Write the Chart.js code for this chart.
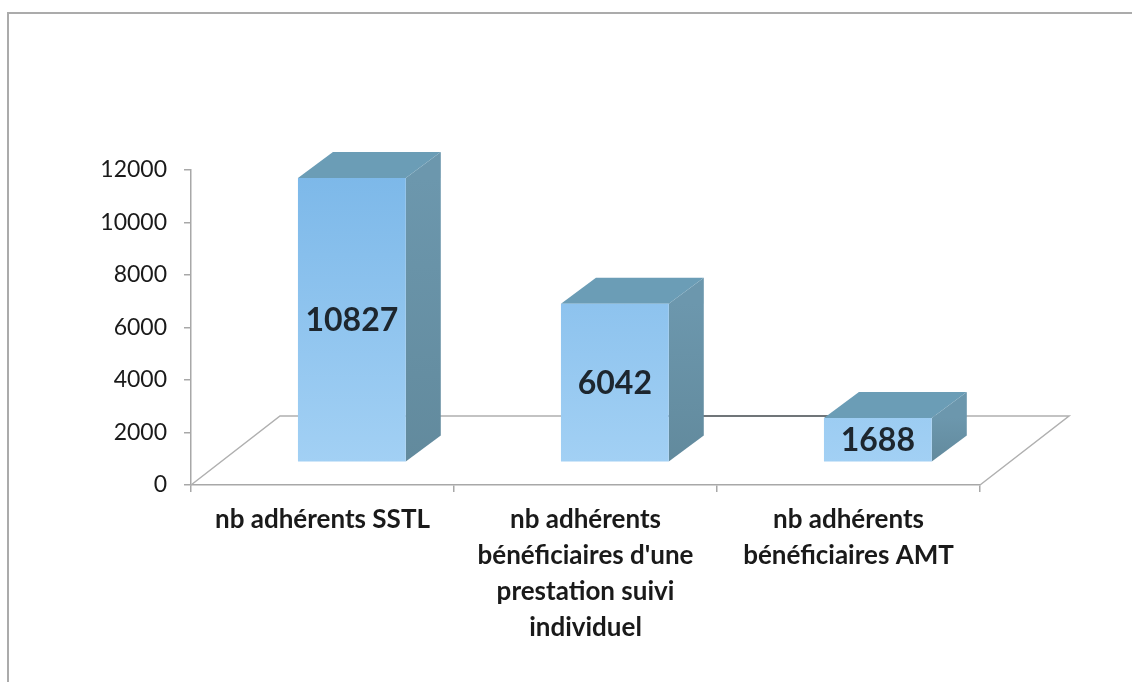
<!DOCTYPE html>
<html lang="fr">
<head>
<meta charset="utf-8">
<title>Adhérents</title>
<script src="https://cdn.jsdelivr.net/npm/chart.js@4.4.1/dist/chart.umd.min.js"></script>
<style>
  html, body { margin: 0; padding: 0; background: #ffffff; }
  #wrap { width: 1132px; height: 682px; position: relative; }
</style>
</head>
<body>
<div id="wrap"><canvas id="chart" width="1132" height="682"></canvas></div>
<script>
// Categories (multi-line labels), values and axis ticks
const categories = [
  ["nb adhérents SSTL"],
  ["nb adhérents", "bénéficiaires d'une", "prestation suivi", "individuel"],
  ["nb adhérents", "bénéficiaires AMT"]
];
const values = [10827, 6042, 1688];
const yTicks = [0, 2000, 4000, 6000, 8000, 10000, 12000];

// Pseudo-3D geometry: floor depth vector and where the columns sit in that depth
const FLOOR_DX = 89, FLOOR_DY = -69;
const FRONT = 0.33;
const COL_DX = 35, COL_DY = -26;

const FONT = "Lato, 'Open Sans', 'DejaVu Sans', sans-serif";

const extrude = {
  id: 'extrude',
  beforeDraw(chart) {
    const ctx = chart.ctx;
    ctx.save();
    ctx.strokeStyle = '#ababab';
    ctx.lineWidth = 2;
    ctx.beginPath();
    ctx.moveTo(8, chart.height);
    ctx.lineTo(8, 13);
    ctx.lineTo(chart.width, 13);
    ctx.stroke();
    ctx.restore();
  },
  beforeDatasetsDraw(chart) {
    const ctx = chart.ctx;
    const a = chart.chartArea;
    const fx = FLOOR_DX * FRONT, fy = FLOOR_DY * FRONT;
    const els = chart.getDatasetMeta(0).data;

    ctx.save();
    // floor outline (front edge is the x axis line)
    ctx.strokeStyle = '#b0b0b0';
    ctx.lineWidth = 1.5;
    ctx.beginPath();
    ctx.moveTo(a.left, a.bottom);
    ctx.lineTo(a.left + FLOOR_DX, a.bottom + FLOOR_DY);
    ctx.lineTo(a.right + FLOOR_DX, a.bottom + FLOOR_DY);
    ctx.lineTo(a.right, a.bottom);
    ctx.stroke();

    // darker back-edge stretch between the 2nd and 3rd columns
    if (els.length > 2) {
      ctx.strokeStyle = '#555b60';
      ctx.lineWidth = 1.6;
      ctx.beginPath();
      ctx.moveTo(els[1].x, a.bottom + FLOOR_DY);
      ctx.lineTo(els[2].x, a.bottom + FLOOR_DY);
      ctx.stroke();
    }

    // side and top faces of each column
    els.forEach(el => {
      const p = el.getProps(['x', 'y', 'base', 'width'], true);
      const l = p.x - p.width / 2 + fx, r = p.x + p.width / 2 + fx;
      const t = p.y + fy, b = p.base + fy;

      const side = ctx.createLinearGradient(0, t, 0, b);
      side.addColorStop(0, '#6c97ad');
      side.addColorStop(1, '#628a9d');
      ctx.fillStyle = side;
      ctx.beginPath();
      ctx.moveTo(r, t);
      ctx.lineTo(r + COL_DX, t + COL_DY);
      ctx.lineTo(r + COL_DX, b + COL_DY);
      ctx.lineTo(r, b);
      ctx.closePath();
      ctx.fill();

      ctx.fillStyle = '#6b9db6';
      ctx.beginPath();
      ctx.moveTo(l, t);
      ctx.lineTo(l + COL_DX, t + COL_DY);
      ctx.lineTo(r + COL_DX, t + COL_DY);
      ctx.lineTo(r, t);
      ctx.closePath();
      ctx.fill();
    });

    // front faces are drawn by Chart.js, shifted into the floor depth
    ctx.translate(fx, fy);
  },
  afterDatasetsDraw(chart) {
    const ctx = chart.ctx;
    ctx.restore();
    const fx = FLOOR_DX * FRONT, fy = FLOOR_DY * FRONT;
    const ds = chart.data.datasets[0];
    ctx.save();
    ctx.font = "bold 32px " + FONT;
    ctx.fillStyle = '#1d262e';
    ctx.textAlign = 'center';
    ctx.textBaseline = 'middle';
    chart.getDatasetMeta(0).data.forEach((el, i) => {
      const p = el.getProps(['x', 'y', 'base'], true);
      ctx.fillText(String(ds.data[i]), p.x + fx, (p.y + p.base) / 2 + fy + 1);
    });
    ctx.restore();
  }
};

new Chart(document.getElementById('chart'), {
  type: 'bar',
  data: {
    labels: categories,
    datasets: [{
      data: values,
      backgroundColor(c) {
        const a = c.chart.chartArea;
        if (!a) return '#88c0ee';
        const g = c.chart.ctx.createLinearGradient(0, a.top, 0, a.bottom);
        g.addColorStop(0, '#79b6e8');
        g.addColorStop(1, '#a2d0f4');
        return g;
      },
      borderWidth: 0,
      barPercentage: 0.41,
      categoryPercentage: 1,
      clip: false
    }]
  },
  options: {
    responsive: false,
    animation: false,
    devicePixelRatio: 1,
    layout: { padding: { left: 0, top: 170, right: 152, bottom: 0 } },
    plugins: { legend: { display: false }, tooltip: { enabled: false } },
    scales: {
      x: {
        grid: { offset: true, drawOnChartArea: false, tickLength: 7, color: '#a8a8a8', lineWidth: 1.5 },
        border: { color: '#a8a8a8', width: 1.5 },
        ticks: {
          maxRotation: 0, autoSkip: false, padding: 10,
          color: '#1a1a1a',
          font: { family: FONT, size: 26, weight: 'bold', lineHeight: '36px' }
        },
        afterFit(s) { s.height = 197; }
      },
      y: {
        min: 0, max: 12000,
        afterBuildTicks(s) { s.ticks = yTicks.map(v => ({ value: v })); },
        grid: { drawOnChartArea: false, tickLength: 7, color: '#a8a8a8', lineWidth: 1.5 },
        border: { color: '#a8a8a8', width: 1.5 },
        ticks: {
          padding: 17,
          color: '#1a1a1a',
          font: { family: FONT, size: 23 },
          callback: v => String(v)
        },
        afterFit(s) { s.width = 191; }
      }
    }
  },
  plugins: [extrude]
});
</script>
</body>
</html>
